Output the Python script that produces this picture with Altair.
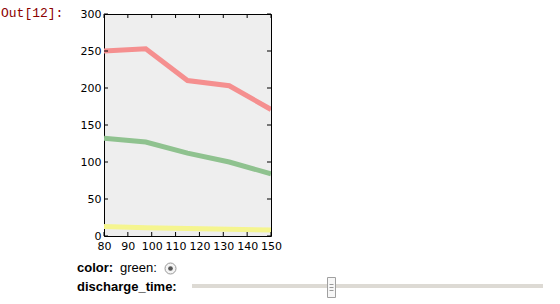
import altair as alt
import pandas as pd

# ---- data ----
discharge = [80, 97.5, 115, 132.5, 150]
red_vals = [250, 253, 210, 203, 171]
green_vals = [132, 127, 112, 100, 84]
yellow_vals = [13, 11, 10, 9, 8]
series_names = ["red", "green", "yellow"]
series_colors = ["#f58f8f", "#8fc28f", "#f5f58f"]
x_ticks = [80, 90, 100, 110, 120, 130, 140, 150]
y_ticks = [0, 50, 100, 150, 200, 250, 300]

rows = []
for name, vals in zip(series_names, [red_vals, green_vals, yellow_vals]):
    for t, v in zip(discharge, vals):
        rows.append({"time": t, "value": v, "series": name})
df = pd.DataFrame(rows)
xt = pd.DataFrame({"t": x_ticks})
yt = pd.DataFrame({"t": y_ticks})
one = pd.DataFrame({"a": [0]})

W, H = 167, 222
xscale = alt.Scale(domain=[80, 150], nice=False, zero=False)
yscale = alt.Scale(domain=[0, 300], nice=False)

xaxis = alt.Axis(values=x_ticks, title=None, grid=False, domain=False,
                 ticks=False, labelPadding=4, labelFont="DejaVu Sans",
                 labelFontSize=11, labelColor="black", format="d",
                 labelOverlap=False, labelFlush=False)
yaxis = alt.Axis(values=y_ticks, title=None, grid=False, domain=False,
                 ticks=False, labelPadding=3, labelFont="DejaVu Sans",
                 labelFontSize=11, labelColor="black", format="d",
                 labelOverlap=False, labelFlush=False)

lines = alt.Chart(df).mark_line(strokeWidth=5, clip=True).encode(
    x=alt.X("time:Q", scale=xscale, axis=xaxis),
    y=alt.Y("value:Q", scale=yscale, axis=yaxis),
    color=alt.Color("series:N", scale=alt.Scale(domain=series_names, range=series_colors),
                    legend=None),
    detail="series:N",
)

tick_len = 4
xb = alt.Chart(xt).mark_rule(color="black", strokeWidth=1).encode(
    x=alt.X("t:Q", scale=xscale, axis=xaxis), y=alt.value(H), y2=alt.value(H - tick_len))
xtop = alt.Chart(xt).mark_rule(color="black", strokeWidth=1).encode(
    x=alt.X("t:Q", scale=xscale, axis=xaxis), y=alt.value(0), y2=alt.value(tick_len))
yl = alt.Chart(yt).mark_rule(color="black", strokeWidth=1).encode(
    y=alt.Y("t:Q", scale=yscale, axis=yaxis), x=alt.value(0), x2=alt.value(tick_len))
yr = alt.Chart(yt).mark_rule(color="black", strokeWidth=1).encode(
    y=alt.Y("t:Q", scale=yscale, axis=yaxis), x=alt.value(W), x2=alt.value(W - tick_len))

OX, OY = 104, 14  # plot origin in page pixels


def txt(s, x, y, **kw):
    base = dict(text=s, font="Liberation Sans", fontSize=13, color="black",
                align="left", baseline="alphabetic")
    base.update(kw)
    return alt.Chart(one).mark_text(**base).encode(x=alt.value(x - OX), y=alt.value(y - OY))


out_txt = txt("Out[12]:", 1, 17, font="Liberation Mono", color="#8b0000")
color_lbl = txt("color:", 77, 272, fontWeight="bold")
green_lbl = txt("green:", 120, 272)
dt_lbl = txt("discharge_time:", 77, 291, fontWeight="bold")

radio_out = alt.Chart(one).mark_point(shape="circle", size=121, filled=True, fill="#f4f4f4",
                                      stroke="#9a9a9a", strokeWidth=1, opacity=1).encode(
    x=alt.value(170.5 - OX), y=alt.value(268.5 - OY))
radio_in = alt.Chart(one).mark_point(shape="circle", size=22, filled=True, color="#555555",
                                     opacity=1).encode(
    x=alt.value(170.5 - OX), y=alt.value(268.5 - OY))
track = alt.Chart(one).mark_rule(color="#dddad4", strokeWidth=4).encode(
    x=alt.value(192 - OX), x2=alt.value(543 - OX), y=alt.value(286 - OY))
thumb = alt.Chart(one).mark_rect(fill="#f7f7f7", stroke="#a0a0a0", strokeWidth=1).encode(
    x=alt.value(327.5 - OX), x2=alt.value(335.5 - OX),
    y=alt.value(277.5 - OY), y2=alt.value(297.5 - OY))
grips = [
    alt.Chart(one).mark_rule(color="#9a9a9a", strokeWidth=1).encode(
        x=alt.value(329.5 - OX), x2=alt.value(333.5 - OX), y=alt.value(gy - OY))
    for gy in (284.5, 287.5, 290.5)
]

chart = alt.layer(
    lines, xb, xtop, yl, yr,
    out_txt, color_lbl, green_lbl, dt_lbl, radio_out, radio_in, track, thumb, *grips,
).properties(
    width=W, height=H,
    autosize=alt.AutoSizeParams(type="none"),
    padding={"left": OX, "top": OY, "right": 560 - OX - W, "bottom": 304 - OY - H},
    background="white",
).configure_view(fill="#eeeeee", stroke="black", strokeWidth=1)

chart.save("out.html", embed_options={"renderer": "svg", "actions": False})
